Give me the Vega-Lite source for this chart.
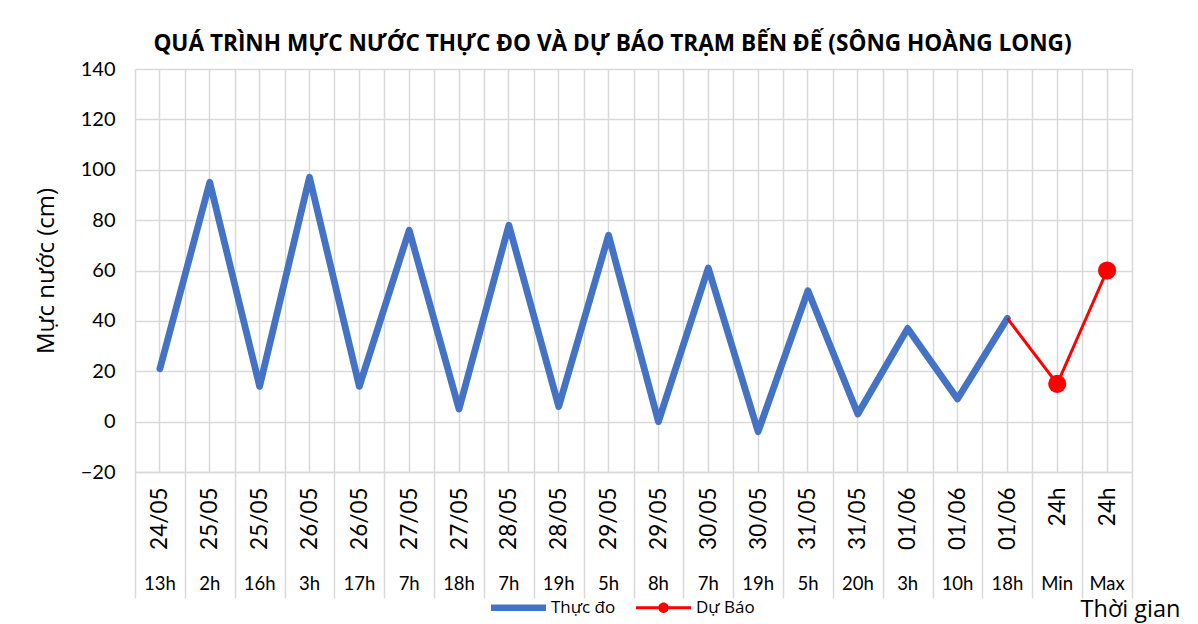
{
  "$schema": "https://vega.github.io/schema/vega-lite/v6.json",
  "width": 997,
  "height": 403,
  "autosize": {"type": "none"},
  "padding": {"left": 135, "top": 69, "right": 66, "bottom": 152},
  "background": "white",
  "title": {
    "text": "QUÁ TRÌNH MỰC NƯỚC THỰC ĐO VÀ DỰ BÁO TRẠM BẾN ĐẾ (SÔNG HOÀNG LONG)",
    "font": "Open Sans",
    "fontSize": 22.6,
    "fontWeight": "bold",
    "color": "#000000",
    "anchor": "middle",
    "dx": -21,
    "offset": 3
  },
  "config": {
    "font": "Lato",
    "view": {"stroke": null},
    "axis": {"labelColor": "#000000", "titleColor": "#000000"}
  },
  "data": {
    "values": [
      {"t": "24/05|13h", "v": 21, "s": "Thực đo", "m": false},
      {"t": "25/05|2h", "v": 95, "s": "Thực đo", "m": false},
      {"t": "25/05|16h", "v": 14, "s": "Thực đo", "m": false},
      {"t": "26/05|3h", "v": 97, "s": "Thực đo", "m": false},
      {"t": "26/05|17h", "v": 14, "s": "Thực đo", "m": false},
      {"t": "27/05|7h", "v": 76, "s": "Thực đo", "m": false},
      {"t": "27/05|18h", "v": 5, "s": "Thực đo", "m": false},
      {"t": "28/05|7h", "v": 78, "s": "Thực đo", "m": false},
      {"t": "28/05|19h", "v": 6, "s": "Thực đo", "m": false},
      {"t": "29/05|5h", "v": 74, "s": "Thực đo", "m": false},
      {"t": "29/05|8h", "v": 0, "s": "Thực đo", "m": false},
      {"t": "30/05|7h", "v": 61, "s": "Thực đo", "m": false},
      {"t": "30/05|19h", "v": -4, "s": "Thực đo", "m": false},
      {"t": "31/05|5h", "v": 52, "s": "Thực đo", "m": false},
      {"t": "31/05|20h", "v": 3, "s": "Thực đo", "m": false},
      {"t": "01/06|3h", "v": 37, "s": "Thực đo", "m": false},
      {"t": "01/06|10h", "v": 9, "s": "Thực đo", "m": false},
      {"t": "01/06|18h", "v": 41, "s": "Thực đo", "m": false},
      {"t": "01/06|18h", "v": 41, "s": "Dự Báo", "m": false},
      {"t": "24h|Min", "v": 15, "s": "Dự Báo", "m": true},
      {"t": "24h|Max", "v": 60, "s": "Dự Báo", "m": true}
    ]
  },
  "encoding": {
    "y": {
      "field": "v",
      "type": "quantitative",
      "scale": {"domain": [-20, 140], "nice": false, "zero": false},
      "axis": {
        "values": [-20, 0, 20, 40, 60, 80, 100, 120, 140],
        "title": "Mực nước (cm)",
        "titleFont": "Open Sans",
        "titleFontSize": 24,
        "titleFontWeight": "normal",
        "titlePadding": 22,
        "labelFont": "Lato",
        "labelFontSize": 20,
        "labelPadding": 20,
        "ticks": false,
        "domain": false,
        "grid": true,
        "gridColor": "#d9d9d9",
        "gridWidth": 1.5
      }
    },
    "color": {
      "field": "s",
      "type": "nominal",
      "scale": {"domain": ["Thực đo", "Dự Báo"], "range": ["#4472C4", "#FF0000"]},
      "legend": {
        "orient": "none",
        "legendX": 356,
        "legendY": 511,
        "direction": "horizontal",
        "title": null,
        "labelFont": "Open Sans",
        "labelFontSize": 17,
        "labelColor": "#000000",
        "labelOffset": 5,
        "symbolSize": 3025,
        "columnPadding": 20,
        "encode": {
          "symbols": {
            "update": {
              "shape": {"signal": "datum.value === 'Thực đo' ? 'M-1,-0.12L1,-0.12L1,0.12L-1,0.12Z' : 'M-1,-0.055L1,-0.055L1,0.055L-1,0.055Z M-0.19,0A0.19,0.19 0 1,1 0.19,0A0.19,0.19 0 1,1 -0.19,0Z'"},
              "fill": {"signal": "datum.value === 'Thực đo' ? '#4472C4' : '#FF0000'"},
              "fillOpacity": {"value": 1},
              "strokeWidth": {"value": 0},
              "opacity": {"value": 1}
            }
          }
        }
      }
    }
  },
  "layer": [
    {
      "transform": [{"filter": "datum.s === 'Thực đo'"}],
      "mark": {"type": "line", "strokeWidth": 6.8, "strokeCap": "round", "strokeJoin": "round"},
      "encoding": {
        "x": {
          "field": "t",
          "type": "nominal",
          "sort": null,
          "bandPosition": 0.5,
          "scale": {"type": "band", "paddingInner": 0, "paddingOuter": 0},
          "axis": {
            "orient": "bottom",
            "title": null,
            "labelExpr": "isValid(datum.value) ? split(datum.value, '|')[0] : ''",
            "labelAngle": -90,
            "labelAlign": "right",
            "labelBaseline": "middle",
            "labelFont": "Lato",
            "labelFontSize": 22.5,
            "labelPadding": -111,
            "labelBound": false,
            "labelOverlap": false,
            "ticks": true,
            "tickSize": 126,
            "tickColor": "#d9d9d9",
            "tickWidth": 1.5,
            "tickBand": "extent",
            "grid": true,
            "gridColor": "#d9d9d9",
            "gridWidth": 1.5,
            "domainColor": "#d9d9d9",
            "domainWidth": 1.5
          }
        }
      }
    },
    {
      "transform": [{"filter": "datum.s === 'Dự Báo'"}],
      "mark": {"type": "line", "strokeWidth": 3},
      "encoding": {
        "x": {
          "field": "t",
          "type": "nominal",
          "sort": null,
          "bandPosition": 0.5,
          "axis": {
            "orient": "bottom",
            "offset": 97,
            "domain": false,
            "ticks": false,
            "grid": true,
            "gridColor": "#d9d9d9",
            "gridWidth": 1.5,
            "labelExpr": "isValid(datum.value) ? split(datum.value, '|')[1] : ''",
            "labelAngle": 0,
            "labelAlign": "center",
            "labelBaseline": "middle",
            "labelFont": "Lato",
            "labelFontSize": 18.5,
            "labelPadding": 14,
            "labelBound": false,
            "labelOverlap": false,
            "title": "Thời gian",
            "titleFont": "Open Sans",
            "titleFontSize": 23.5,
            "titleFontWeight": "normal",
            "titleAlign": "right",
            "titleBaseline": "middle",
            "titleAnchor": "end",
            "titleX": 1045,
            "titleY": 40
          }
        }
      }
    },
    {
      "transform": [{"filter": "datum.m"}],
      "mark": {"type": "point", "filled": true, "size": 330, "opacity": 1},
      "encoding": {
        "x": {"field": "t", "type": "nominal", "sort": null, "bandPosition": 0.5, "axis": null}
      }
    }
  ],
  "resolve": {"axis": {"x": "independent"}}
}
